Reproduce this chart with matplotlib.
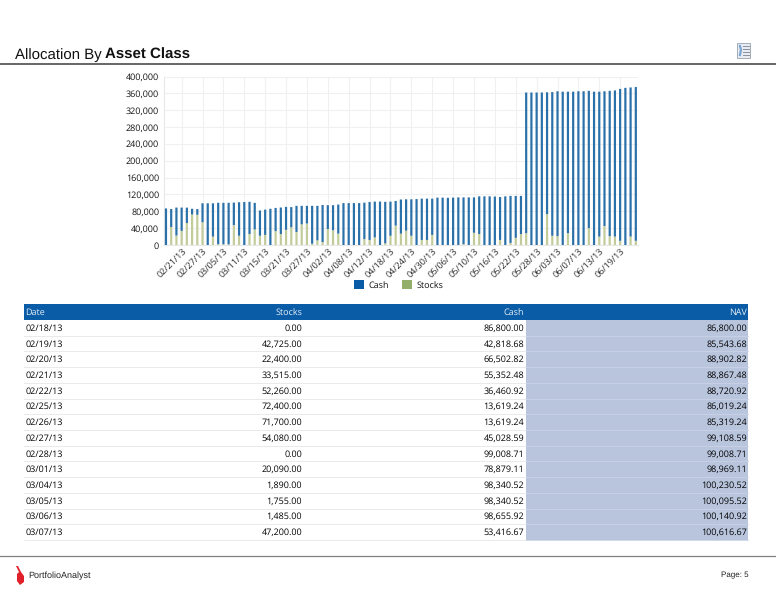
import matplotlib
matplotlib.use("Agg")
import matplotlib.pyplot as plt
import numpy as np
import pandas as pd
from matplotlib.patches import Rectangle, Polygon

# данные
stocks = [0, 42725, 22400, 33515, 52260, 72400, 71700, 54080, 0, 20090, 1890, 1755, 1485, 47200,
          22000, 0, 26000, 37000, 22000, 24000, 0, 33000, 26000, 36000, 42000, 31000, 49000, 51000,
          3000, 11000, 7000, 38000, 35000, 27000, 0, 0, 0, 0, 14000, 12000, 18000, 0, 4000, 22000,
          46000, 27000, 34000, 22000, 0, 12000, 12000, 24000, 0, 0, 0, 0, 0, 2000, 0, 29000,
          26000, 0, 0, 0, 12000, 0, 5000, 17000, 26000, 28000, 0, 0, 0, 73000, 22000, 21000,
          0, 28000, 0, 0, 0, 40000, 0, 20000, 45000, 21000, 20000, 10000, 0, 20000, 10000]
cash = [86800.00, 42818.68, 66502.82, 55352.48, 36460.92, 13619.24, 13619.24, 45028.59, 99008.71,
        78879.11, 98340.52, 98340.52, 98655.92, 53416.67,
        79500, 102000, 76500, 63000, 60000, 60000, 86000, 55000, 63000, 54500, 48000, 62000, 44000, 42000,
        90000, 82000, 88000, 56500, 59500, 69000, 99500, 99500, 99500, 99500, 86500, 90000, 85000, 103000,
        98500, 81000, 58500, 81000, 74500, 86500, 109000, 98000, 98000, 86000, 112500, 112500, 112000,
        112500, 113000, 111000, 113000, 84000, 89500, 115500, 115500, 115000, 102000, 115500, 111500, 99500,
        90500, 334000, 362000, 362000, 362000, 289500, 341000, 344000, 364000, 336000, 364000, 365000,
        365000, 326000, 364000, 344000, 320000, 345000, 347000, 360500, 373000, 354000, 365000]

dates = pd.date_range("2013-02-18", periods=len(stocks), freq="B").strftime("%m/%d/%y").tolist()
x = np.arange(len(stocks))
y_ticks = list(range(0, 400001, 40000))
table_rows = 14

plt.rcParams["font.family"] = ["Open Sans", "DejaVu Sans"]
plt.rcParams["text.hinting"] = "no_hinting"
plt.rcParams["text.hinting_factor"] = 1

W, H = 776, 600
fig = plt.figure(figsize=(W / 100, H / 100), dpi=100)

# подложка в пикселях для шапки, таблицы и подвала
bg = fig.add_axes([0, 0, 1, 1])
bg.set_xlim(0, W)
bg.set_ylim(H, 0)
bg.axis("off")

# заголовок из двух кусков на одной базовой линии
t = bg.text(15, 59, "Allocation By", family="Liberation Sans", fontsize=10.5, color="#111111", va="baseline")
end_x = t.get_window_extent(fig.canvas.get_renderer()).x1
bg.text(end_x + 3.5, 59, "Asset Class", family="Liberation Sans", fontsize=10.5, fontweight="bold",
        color="#111111", va="baseline")
bg.plot([0, W], [64, 64], color="#5a5a5a", lw=1.3)
bg.plot([0, W], [556, 556], color="#808080", lw=0.9)

# значок справа
bg.add_patch(Rectangle((737, 43), 13, 15, fc="#e8ecf2", ec="#a3acb8", lw=0.7))
for yy in (46, 49, 52, 55):
    bg.plot([743, 748.5], [yy, yy], color="#8a929e", lw=0.7)
bg.plot([740, 741, 740], [46, 50, 55], color="#7ba6d4", lw=1.6)

# логотип
bg.add_patch(Polygon([(16, 566), (18, 566), (21, 572), (24, 576), (24, 582), (20, 585), (17, 581), (17, 574), (19, 572)],
                     fc="#e0202a", ec="none"))
bg.text(28, 575.5, "PortfolioAnalyst", family="Liberation Sans", fontsize=6.3, color="#222222", va="center")
bg.text(749, 575.5, "Page: 5", family="Liberation Sans", fontsize=5.8, color="#222222", va="center", ha="right")

# таблица
head_top, head_h, row_h = 304, 16, 15.72
table_fs = 6.5
text_col = "#000000"
bg.add_patch(Rectangle((24, head_top), 724, head_h, fc="#0a5ca6", ec="none"))
bg.add_patch(Rectangle((526, head_top + head_h), 222, row_h * table_rows, fc="#b9c5dd", ec="none"))
head_y = head_top + head_h / 2 + 0.5
bg.text(25.5, head_y, "Date", fontsize=table_fs, color="#e6eef6", va="center")
for xr, name in ((302, "Stocks"), (524, "Cash"), (747, "NAV")):
    bg.text(xr, head_y, name, fontsize=table_fs, color="#e6eef6", va="center", ha="right")
for i in range(table_rows):
    yy = head_top + head_h + row_h * (i + 0.5) + 0.5
    bg.text(25.5, yy, dates[i], fontsize=table_fs, color=text_col, va="center")
    bg.text(302, yy, f"{stocks[i]:,.2f}", fontsize=table_fs, color=text_col, va="center", ha="right")
    bg.text(524, yy, f"{cash[i]:,.2f}", fontsize=table_fs, color=text_col, va="center", ha="right")
    bg.text(747, yy, f"{stocks[i] + cash[i]:,.2f}", fontsize=table_fs, color=text_col, va="center", ha="right")
    line_y = head_top + head_h + row_h * (i + 1)
    bg.plot([24, 526], [line_y, line_y], color="#e6e6e6", lw=0.6)
    bg.plot([526, 748], [line_y, line_y], color="#c9d2e5", lw=0.6)

# график
ax = fig.add_axes([164 / W, (H - 245) / H, 474 / W, 168.5 / H])
ax.patch.set_alpha(0)
b1 = ax.bar(x, stocks, width=0.42, color="#c2cc9b", label="Stocks", zorder=3)
b2 = ax.bar(x, cash, width=0.42, bottom=stocks, color="#2a70a9", label="Cash", zorder=3)
for p in list(b1) + list(b2):
    p.set_snap(False)
ax.set_xlim(-0.38, 90.42)
ax.set_ylim(0, 400000)
ax.set_yticks(y_ticks)
ax.set_yticklabels([f"{v:,}" for v in y_ticks], fontsize=6.5, color="#111111")
tick_x = x[3::4]
ax.set_xticks(tick_x)
ax.set_xticklabels([dates[i] for i in tick_x], rotation=45, ha="right", rotation_mode="anchor",
                   fontsize=6.6, color="#222222")
ax.tick_params(axis="y", length=0, pad=3.5)
ax.tick_params(axis="x", length=0, pad=1.5)
ax.grid(True, color="#f0f0f0", lw=0.8, zorder=0)
for side in ("top", "right"):
    ax.spines[side].set_visible(False)
ax.spines["left"].set_color("#e8e8e8")
ax.spines["bottom"].set_color("#e8e8e8")

# легенда: сначала Cash
leg_handles = [Rectangle((0, 0), 1, 1, fc="#0a5ca6"), Rectangle((0, 0), 1, 1, fc="#93ae68")]
fig.legend(leg_handles, ["Cash", "Stocks"], ncol=2, frameon=False, fontsize=6.5,
           loc="center", bbox_to_anchor=(398.5 / W, 1 - 285 / H), handlelength=1.1, handleheight=1.1,
           handletextpad=0.5, columnspacing=1.45, labelcolor="#111111")

fig.savefig("out.png", dpi=100)
